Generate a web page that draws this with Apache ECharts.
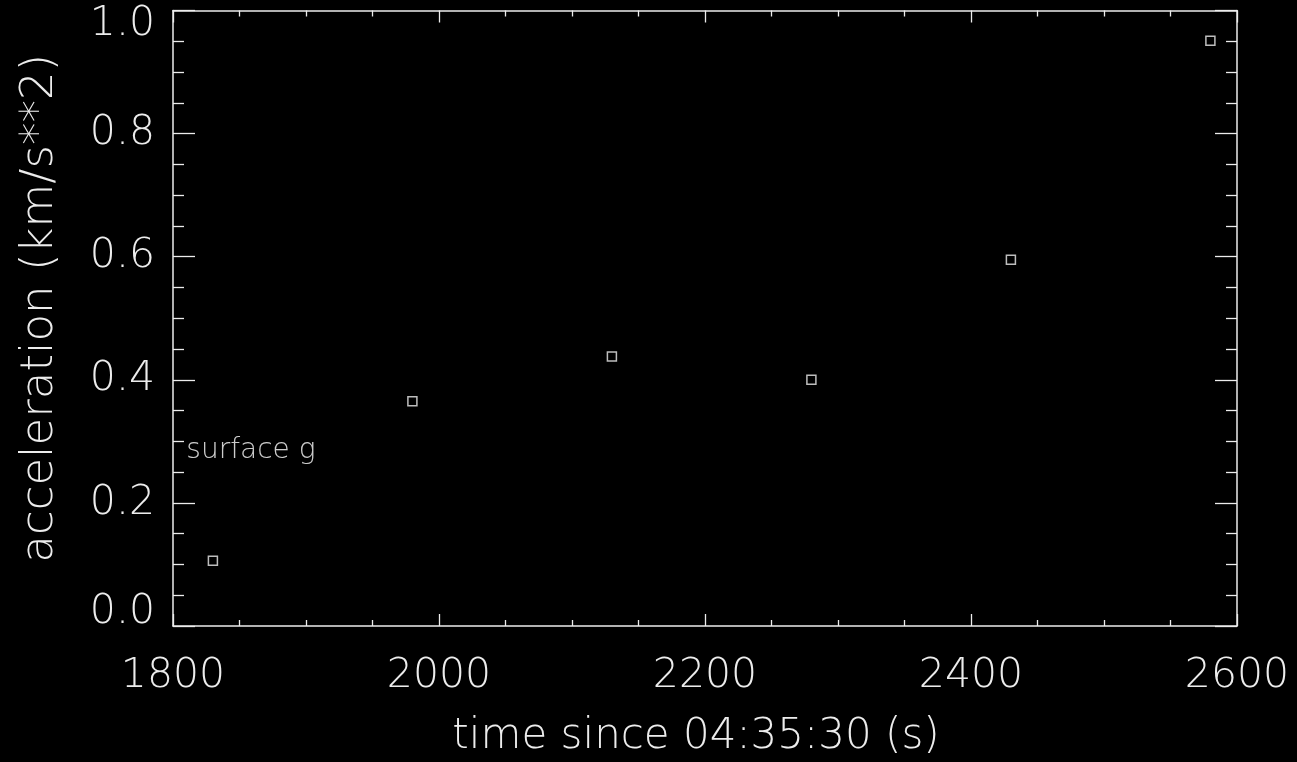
<!DOCTYPE html>
<html>
<head>
<meta charset="utf-8">
<script src="https://cdn.jsdelivr.net/npm/echarts@6/dist/echarts.min.js"></script>
<style>
html,body{margin:0;padding:0;background:#000;}
#chart{width:1297px;height:762px;}
</style>
</head>
<body>
<div id="chart"></div>
<script>
const timeValues = [1830, 1980, 2130, 2280, 2430, 2580];
const accelValues = [0.106, 0.365, 0.438, 0.400, 0.595, 0.951];
const annotationText = 'surface g';
const annotationPoint = [1810, 0.274];
const xTitle = 'time since 04:35:30 (s)';
const yTitle = 'acceleration (km/s**2)';

const FG = '#ececec';
const FONT = 'DejaVu Sans';
const FW = 200;

const lineStyle = {color: FG, width: 1.5};
function makeX(pos, show) {
  return {
    type: 'value', position: pos, min: 1800, max: 2600, interval: 200,
    name: show ? xTitle : '', nameLocation: 'middle', nameGap: 90,
    nameTextStyle: {color: FG, fontFamily: FONT, fontWeight: FW, fontSize: 42, padding: [0, 18, 0, 0]},
    axisLine: {show: true, onZero: false, lineStyle: lineStyle},
    axisTick: {show: true, inside: true, length: 12, lineStyle: {color: FG, width: 1.3}},
    minorTick: {show: true, splitNumber: 4, length: 6, lineStyle: {color: FG, width: 1.3}},
    splitLine: {show: false}, minorSplitLine: {show: false},
    axisLabel: {show: show, color: FG, fontFamily: FONT, fontWeight: FW, fontSize: 41, margin: 30,
      formatter: v => String(v)}
  };
}
function makeY(pos, show) {
  return {
    type: 'value', position: pos, min: 0, max: 1.0, interval: 0.2,
    name: show ? yTitle : '', nameLocation: 'middle', nameGap: 110, nameRotate: 90,
    nameTextStyle: {color: FG, fontFamily: FONT, fontWeight: FW, fontSize: 45, padding: [0, 0, 0, 20]},
    axisLine: {show: true, onZero: false, lineStyle: lineStyle},
    axisTick: {show: true, inside: true, length: 22, lineStyle: {color: FG, width: 1.3}},
    minorTick: {show: true, splitNumber: 4, length: 11, lineStyle: {color: FG, width: 1.3}},
    splitLine: {show: false}, minorSplitLine: {show: false},
    axisLabel: {show: show, color: FG, fontFamily: FONT, fontWeight: FW, fontSize: 41, margin: 18,
      lineHeight: 28,
      verticalAlignMinLabel: 'bottom', verticalAlignMaxLabel: 'top',
      formatter: v => v.toFixed(1)}
  };
}

const chart = echarts.init(document.getElementById('chart'), null, {renderer: 'canvas'});
chart.setOption({
  backgroundColor: '#000',
  animation: false,
  grid: {left: 173, top: 10.5, right: 60, bottom: 136, containLabel: false, outerBoundsMode: 'none'},
  xAxis: [makeX('bottom', true), makeX('top', false)],
  yAxis: [makeY('left', true), makeY('right', false)],
  series: [
    {
      type: 'scatter', xAxisIndex: 0, yAxisIndex: 0,
      data: timeValues.map((t, i) => [t, accelValues[i]]),
      symbol: 'rect', symbolSize: 9,
      itemStyle: {color: '#000', borderColor: FG, borderWidth: 1.5}
    },
    {
      type: 'scatter', xAxisIndex: 0, yAxisIndex: 0,
      data: [annotationPoint],
      symbolSize: 0, silent: true,
      label: {show: true, formatter: annotationText, position: [0, 0], offset: [0, 7],
        align: 'left', verticalAlign: 'bottom',
        color: '#ffffff', fontFamily: FONT, fontWeight: FW, fontSize: 28}
    }
  ]
});
</script>
</body>
</html>
